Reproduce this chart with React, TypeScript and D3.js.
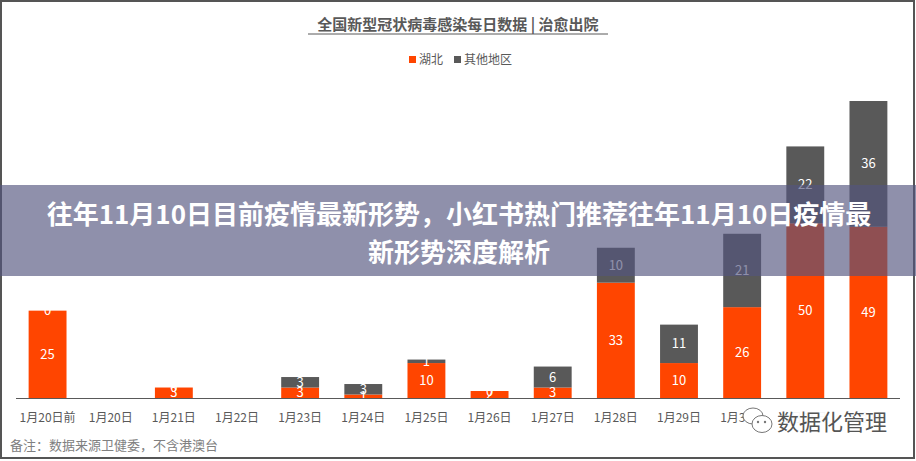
import React from "react";
import * as d3 from "d3";

const categories = ["1月20日前", "1月20日", "1月21日", "1月22日", "1月23日", "1月24日", "1月25日", "1月26日", "1月27日", "1月28日", "1月29日", "1月30日", "1月31日", "2月1日"];
const hubei = [25, 0, 3, 0, 3, 1, 10, 2, 3, 33, 10, 26, 50, 49];
const other = [0, 0, 0, 0, 3, 3, 1, 0, 6, 10, 11, 21, 22, 36];
const seriesNames = ["湖北", "其他地区"];
const seriesColors = ["#FF4500", "#595959"];
const title = "全国新型冠状病毒感染每日数据 | 治愈出院";
const note = "备注：数据来源卫健委，不含港澳台";
const bannerLines = ["往年11月10日目前疫情最新形势，小红书热门推荐往年11月10日疫情最", "新形势深度解析"];
const watermark = "数据化管理";

const W = 916;
const H = 461;
const FONT = "'Noto Sans CJK SC', 'Microsoft YaHei', sans-serif";

export default function App() {
  const x = d3.scaleBand<string>().domain(categories).range([16, 900]).paddingInner(0.4).paddingOuter(0.2);
  const y = d3.scaleLinear().domain([0, 85]).range([398, 101]);
  const rows = categories.map((c, i) => ({ c, hubei: hubei[i], other: other[i] }));
  const stack = d3.stack<any>().keys(["hubei", "other"])(rows);
  const bw = x.bandwidth();

  return (
    <svg width={W} height={H} style={{ position: "absolute", left: 0, top: 0, background: "#fff" }} fontFamily={FONT}>
      <rect x={0} y={0} width={W} height={H} fill="#fff" />
      <rect x={1} y={1} width={913} height={457} fill="none" stroke="#555" strokeWidth={2} />
      <text x={458} y={30} textAnchor="middle" fontSize={15} fontWeight="bold" fill="#595959">{title}</text>
      <line x1={308} x2={608} y1={34} y2={34} stroke="#595959" strokeWidth={1} />
      {/* legend */}
      <g fontSize={12} fill="#595959">
        <rect x={409} y={56} width={7} height={7} fill={seriesColors[0]} />
        <text x={419} y={64}>{seriesNames[0]}</text>
        <rect x={454} y={56} width={7} height={7} fill={seriesColors[1]} />
        <text x={464} y={64}>{seriesNames[1]}</text>
      </g>
      {stack.map((s, si) => (
        <g key={si} fill={seriesColors[si]}>
          {s.map((d, i) => (
            <rect key={i} x={x(categories[i])!} y={y(d[1])} width={bw} height={Math.max(0, y(d[0]) - y(d[1]))} />
          ))}
        </g>
      ))}
      {stack.map((s, si) => (
        <g key={"l" + si} fill="#fff" fontSize={13} textAnchor="middle">
          {s.map((d, i) => (
            <text key={i} x={x(categories[i])! + bw / 2} y={(y(d[0]) + y(d[1])) / 2 + 4.5}>{d[1] - d[0]}</text>
          ))}
        </g>
      ))}
      <line x1={16} x2={900} y1={398.5} y2={398.5} stroke="#595959" strokeWidth={1} />
      <g fontSize={12} fill="#595959" textAnchor="middle">
        {categories.map((c) => (
          <text key={c} x={x(c)! + bw / 2} y={422}>{c}</text>
        ))}
      </g>
      <text x={10} y={450} fontSize={13} fill="#808080">{note}</text>
      {/* banner */}
      <rect x={0} y={185} width={W} height={91} fill="rgb(83,85,126)" fillOpacity={0.65} />
      <g fill="#fff" fontSize={26} fontWeight="bold" textAnchor="middle">
        <text x={459} y={224}>{bannerLines[0]}</text>
        <text x={459} y={262}>{bannerLines[1]}</text>
      </g>
      {/* watermark */}
      <rect x={758} y={406} width={134} height={30} fill="#fff" fillOpacity={0.95} />
      <g stroke="#777" strokeWidth={1} fill="#fff">
        <ellipse cx={753} cy={416} rx={10} ry={8} />
        <ellipse cx={762} cy={424} rx={10} ry={8.5} />
        <circle cx={758} cy={422} r={1.2} fill="#777" stroke="none" />
        <circle cx={765} cy={422} r={1.2} fill="#777" stroke="none" />
      </g>
      <text x={777} y={430} fontSize={22} fill="#555" stroke="#fff" strokeWidth={0.6} paintOrder="stroke">{watermark}</text>
    </svg>
  );
}
